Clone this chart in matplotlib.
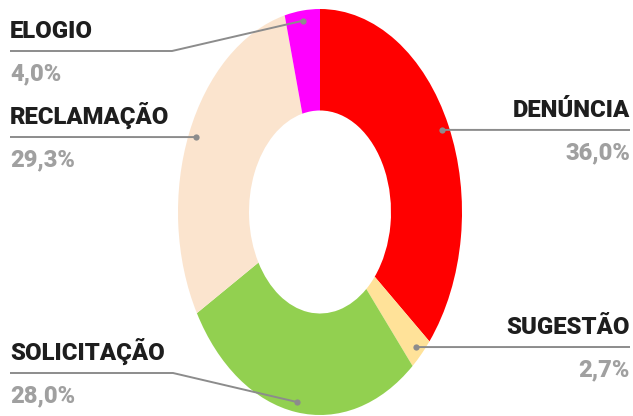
import numpy as np
import matplotlib.pyplot as plt

labels = ['DENÚNCIA', 'SUGESTÃO', 'SOLICITAÇÃO', 'RECLAMAÇÃO', 'ELOGIO']
values = [36.0, 2.7, 28.0, 29.3, 4.0]
colors = ['#FF0000', '#FFE299', '#92D050', '#FBE4CE', '#FF00FF']

# label placement: side, leader line y (pixels from top), elbow x (None = straight)
sides = ['right', 'right', 'left', 'left', 'left']
line_y = [130, 347, 373, 137, 51]
elbow_x = [None, None, 173, None, 172]

W, H = 633, 416
cx, cy, rx, ry = 320, 212, 142, 203

plt.rcParams['font.family'] = ['Roboto', 'DejaVu Sans']

fig = plt.figure(figsize=(W / 100, H / 100), dpi=100)
ax = fig.add_axes([0, 0, 1, 1])

wedges, _ = ax.pie(values, colors=colors, startangle=90, counterclock=False,
                   radius=1, wedgeprops=dict(width=0.5, linewidth=0))
ax.set_aspect('auto')
ax.set_xlim(-cx / rx, (W - cx) / rx)
ax.set_ylim(-(H - cy) / ry, cy / ry)
ax.axis('off')


def px(x, y):
    # pixel (top-left origin) -> data coords of the stretched pie
    return (x - cx) / rx, (cy - y) / ry


line_col = '#8C8C8C'
for w, lab, v, side, ly, ex in zip(wedges, labels, values, sides, line_y, elbow_x):
    mid = np.deg2rad((w.theta1 + w.theta2) / 2)
    dx, dy = 0.95 * np.cos(mid), 0.95 * np.sin(mid)
    if side == 'right':
        xs = [dx, px(630, ly)[0]]
        ys = [dy, px(0, ly)[1]]
        tx, ha = 630, 'right'
    else:
        xs, ys = [px(10, ly)[0]], [px(0, ly)[1]]
        if ex is not None:
            xs.append(px(ex, ly)[0])
            ys.append(px(0, ly)[1])
        xs.append(dx)
        ys.append(dy)
        tx, ha = 10, 'left'
    ax.plot(xs, ys, color=line_col, lw=1.4, solid_capstyle='butt')
    ax.plot([dx], [dy], 'o', color=line_col, ms=4.5, mec='none')
    nx, ny = px(tx, ly - 13)
    ax.text(nx, ny, lab, ha=ha, va='baseline', fontsize=17.2, fontweight='heavy',
            color='#1E1E1E')
    pxx, pyy = px(tx, ly + 11)
    ax.text(pxx, pyy, f'{v:.1f}%'.replace('.', ','), ha=ha, va='top',
            fontsize=17, fontweight='heavy', color='#A0A0A0')

fig.savefig('out.png', dpi=100, facecolor='white')
